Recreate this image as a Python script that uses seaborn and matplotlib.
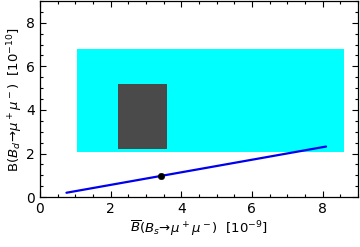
import matplotlib
matplotlib.use("Agg")
import matplotlib.pyplot as plt
import seaborn as sns
import pandas as pd
from matplotlib.ticker import MultipleLocator

# allowed region (cyan) and measured region (dark gray)
cyan_x = [1.05, 8.6]
cyan_y = [2.05, 6.8]
gray_x = [2.2, 3.6]
gray_y = [2.2, 5.2]
# prediction line and central point
line_x = [0.75, 8.1]
line_y = [0.2, 2.32]
point_x = [3.44]
point_y = [0.98]

sns.set_style("ticks")
plt.rcParams['font.family'] = ['DejaVu Sans']
plt.rcParams['mathtext.fontset'] = 'dejavusans'
plt.rcParams['text.color'] = 'black'
plt.rcParams['axes.labelcolor'] = 'black'
plt.rcParams['xtick.color'] = 'black'
plt.rcParams['ytick.color'] = 'black'
plt.rcParams['axes.edgecolor'] = 'black'

fig = plt.figure(figsize=(3.6, 2.47), dpi=100)
ax = fig.add_axes([0.111, 0.202, 0.883, 0.794])

ax.fill_between(cyan_x, cyan_y[0], cyan_y[1], color="#00ffff", lw=0, zorder=1)
ax.fill_between(gray_x, gray_y[0], gray_y[1], color="#4a4a4a", lw=0, zorder=2)

df = pd.DataFrame({"x": line_x, "y": line_y})
sns.lineplot(data=df, x="x", y="y", ax=ax, color="#0000ee", lw=1.6, zorder=3)
sns.scatterplot(x=point_x, y=point_y, ax=ax, color="black", s=22, zorder=4, edgecolor="black")

ax.set_xlim(0, 9)
ax.set_ylim(0, 9)
ax.xaxis.set_major_locator(MultipleLocator(2))
ax.xaxis.set_minor_locator(MultipleLocator(0.5))
ax.yaxis.set_major_locator(MultipleLocator(2))
ax.yaxis.set_minor_locator(MultipleLocator(0.5))
ax.tick_params(which="both", direction="in", top=True, right=True, labelsize=10, width=0.8)
ax.tick_params(which="major", length=4)
ax.tick_params(which="minor", length=2)
for s in ax.spines.values():
    s.set_linewidth(0.9)

ax.set_xlabel(r"$\overline{B}(B_s\!\rightarrow\!\mu^+\mu^-)\ \ [10^{-9}]$", fontsize=9.5, labelpad=2)
ax.set_ylabel(r"$\mathrm{B}(B_d\!\rightarrow\!\mu^+\mu^-)\ \ [10^{-10}]$", fontsize=9.5, labelpad=1)

fig.savefig("out.png", dpi=100)
